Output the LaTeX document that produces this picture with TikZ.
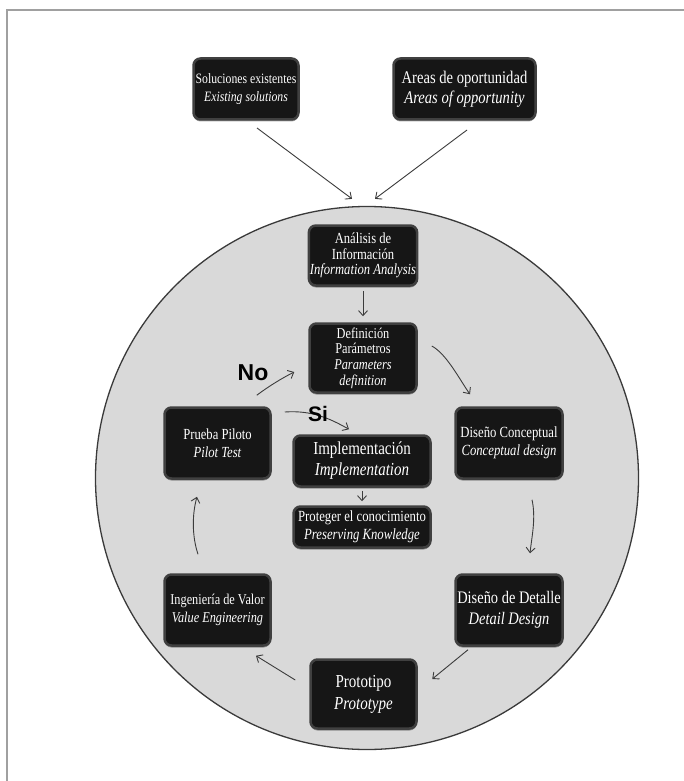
\documentclass[tikz,border=0pt]{standalone}
\usepackage{fontspec}
\setmainfont{Liberation Serif}[FakeStretch=0.82]
\newfontfamily\labelfont{Liberation Sans}
\usetikzlibrary{arrows.meta,shadows}
\definecolor{boxfill}{HTML}{161616}
\definecolor{boxrim}{HTML}{404040}
\definecolor{circfill}{HTML}{D9D9D9}
\definecolor{circline}{HTML}{3A3A3A}
\definecolor{arrowgray}{HTML}{3C3C3C}
\definecolor{framegray}{HTML}{A0A0A0}
\tikzset{
  box/.style={rounded corners=7pt, fill=boxfill, draw=boxrim, line width=2.5pt,
    text=white, align=center, inner sep=1pt,
    drop shadow={shadow xshift=0pt, shadow yshift=-2pt, opacity=0.35, fill=black}},
  sz/.style 2 args={minimum width=#1pt, minimum height=#2pt},
  fsz/.style 2 args={font=\fontsize{#1}{#2}\selectfont},
  arr/.style={draw=arrowgray, line width=0.9pt, -{Straight Barb[length=5pt,width=9pt]}},
  yn/.style={font=\labelfont\bfseries\fontsize{#1}{#1}\selectfont, text=black, inner sep=0pt}
}
\begin{document}
\begin{tikzpicture}[x=1pt,y=-1pt]
\useasboundingbox (0,0) rectangle (684,781);
\fill[white] (0,0) rectangle (684,781);
% frame
\draw[framegray, line width=1.5pt] (7,781) -- (7,10) -- (684,10);
% big circle
\node[circle, draw=circline, fill=circfill, line width=1.3pt, minimum size=543pt, inner sep=0pt] (circ) at (367,478) {};

% boxes
\node[box, sz={105}{61}, fsz={14.3}{18.5}] (sol) at (246,89) {Soluciones existentes\\\textit{Existing solutions}};
\node[box, sz={142}{61}, fsz={17.8}{19.5}] (area) at (464.5,89) {Areas de oportunidad\\\textit{Areas of opportunity}};
\node[box, sz={107}{60}, fsz={15.4}{15.5}] (ana) at (363,255.5) {Análisis de\\Información\\\textit{Information Analysis}};
\node[box, sz={107}{69}, fsz={15}{15.6}] (def) at (363,358) {Definición\\Parámetros\\\textit{Parameters}\\\textit{definition}};
\node[box, sz={107}{71}, fsz={15.5}{18.5}] (dc) at (509,443) {Diseño Conceptual\\\textit{Conceptual design}};
\node[box, sz={137}{51}, fsz={18.3}{21}] (impl) at (362,461) {Implementación\\\textit{Implementation}};
\node[box, sz={137}{41}, fsz={15.5}{18}] (prot) at (362,527) {Proteger el conocimiento\\\textit{Preserving Knowledge}};
\node[box, sz={106}{71}, fsz={15.4}{18.5}] (pp) at (217.5,443) {Prueba Piloto\\\textit{Pilot Test}};
\node[box, sz={106}{71}, fsz={15}{18.5}] (iv) at (217.5,610) {Ingeniería de Valor\\\textit{Value Engineering}};
\node[box, sz={107}{71}, fsz={17.6}{21}] (dd) at (509,610) {Diseño de Detalle\\\textit{Detail Design}};
\node[box, sz={106}{69}, fsz={18.3}{22}] (proto) at (363.5,694) {Prototipo\\\textit{Prototype}};

% connectors
\draw[arr] ([shift={(11,39)}]sol.center) -- ([shift={(-15,-7)}]circ.north);
\draw[arr] ([shift={(2.5,41)}]area.center) -- ([shift={(8,-7)}]circ.north);
\draw[arr] ([shift={(0,4)}]ana.south) -- ([shift={(0,-6)}]def.north);
\draw[arr] ([shift={(0,3)}]impl.south) -- ([shift={(0,-4)}]prot.north);
\draw[arr] ([shift={(14,-12)}]def.east) .. controls +(15,8) and +(-10,-14) .. ([shift={(-39,-12)}]dc.north);
\draw[arr] ([shift={(23,20)}]dc.south) .. controls +(4,18) and +(2,-18) .. ([shift={(21,-20)}]dd.north);
\draw[arr] ([shift={(-41,3)}]dd.south) -- ([shift={(14.5,-15)}]proto.east);
\draw[arr] ([shift={(-14,-14)}]proto.west) -- ([shift={(38.5,9)}]iv.south);
\draw[arr] ([shift={(-19.5,-19)}]iv.north) .. controls +(-6,-18) and +(-5,18) .. ([shift={(-20.5,17)}]pp.south);
\draw[arr] ([shift={(-15,-11)}]pp.north east) .. controls +(12,-9) and +(-12,6) .. ([shift={(-14,14)}]def.west);
\draw[arr] ([shift={(13,-31)}]pp.east) .. controls +(28,-2) and +(-18,-10) .. ([shift={(-13,-5)}]impl.north);

% labels
\node[yn=23] (no) at (253,373) {No};
\node[yn=21] (si) at (318,414) {Si};
\end{tikzpicture}
\end{document}
